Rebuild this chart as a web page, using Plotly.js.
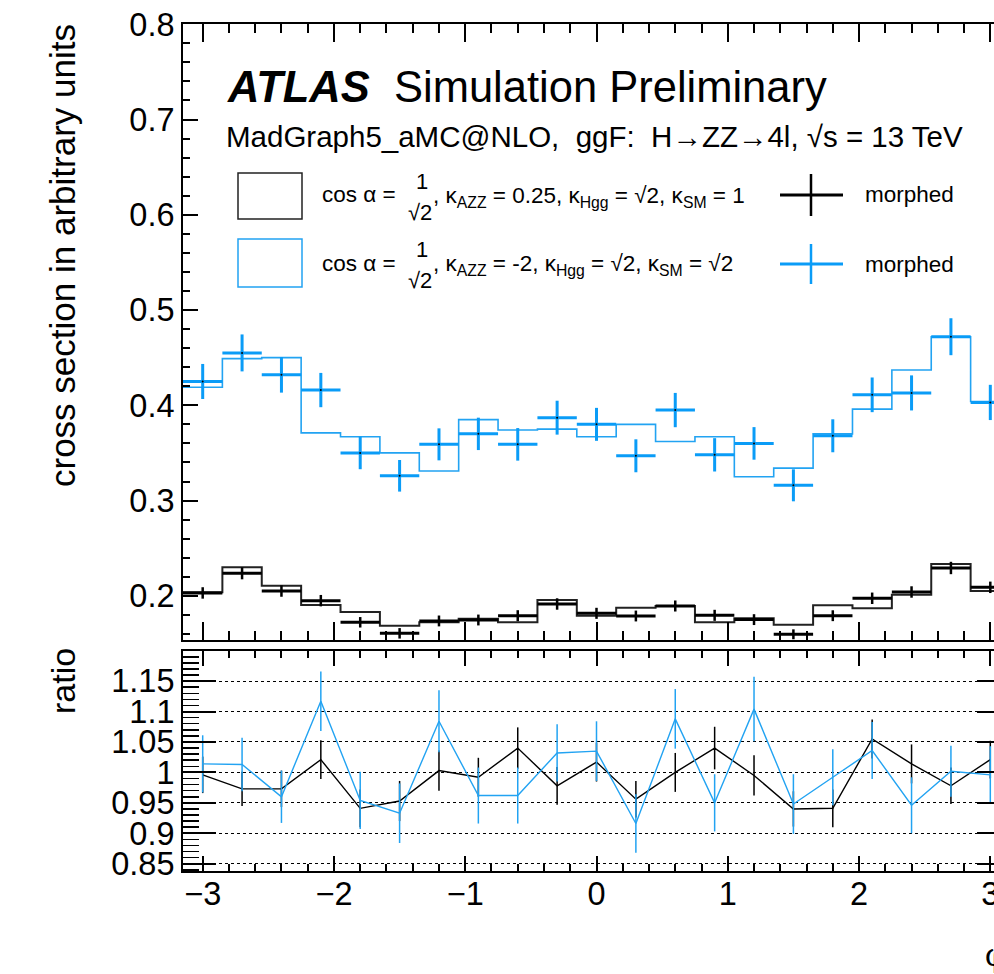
<!DOCTYPE html>
<html>
<head>
<meta charset="utf-8">
<script src="https://cdn.plot.ly/plotly-3.0.1.min.js"></script>
<style>
html,body{margin:0;padding:0;overflow:hidden;background:#fff;}
#plot{width:1040px;height:974px;}
</style>
</head>
<body>
<div id="plot"></div>
<script>
// ---- data ----
const binCenters = [-3, -2.7, -2.4, -2.1, -1.8, -1.5, -1.2, -0.9, -0.6, -0.3, 0, 0.3, 0.6, 0.9, 1.2, 1.5, 1.8, 2.1, 2.4, 2.7, 3.0];
const binEdges = [-3.15, -2.85, -2.55, -2.25, -1.95, -1.65, -1.35, -1.05, -0.75, -0.45, -0.15, 0.15, 0.45, 0.75, 1.05, 1.35, 1.65, 1.95, 2.25, 2.55, 2.85, 3.15];
const binHalfWidth = 0.15;

const blueHist = [0.419, 0.449, 0.450, 0.371, 0.367, 0.350, 0.331, 0.385, 0.374, 0.375, 0.367, 0.380, 0.362, 0.367, 0.325, 0.334, 0.370, 0.396, 0.437, 0.472, 0.404];
const blueMorph = [0.425, 0.455, 0.432, 0.416, 0.350, 0.326, 0.359, 0.370, 0.359, 0.387, 0.380, 0.347, 0.395, 0.348, 0.360, 0.316, 0.368, 0.411, 0.413, 0.472, 0.403];
const blueMorphErr = [0.0184, 0.0194, 0.0187, 0.018, 0.0171, 0.0166, 0.0168, 0.017, 0.0171, 0.0178, 0.0173, 0.0173, 0.018, 0.0175, 0.0171, 0.0168, 0.0173, 0.0182, 0.0184, 0.0194, 0.0185];

const blackHist = [0.2037, 0.2299, 0.2106, 0.1903, 0.1830, 0.1686, 0.1722, 0.1760, 0.1722, 0.1956, 0.1791, 0.1875, 0.1893, 0.1722, 0.1765, 0.1697, 0.1900, 0.1869, 0.2010, 0.2334, 0.2050];
const blackMorph = [0.2030, 0.2236, 0.2050, 0.1949, 0.1722, 0.1606, 0.1736, 0.1746, 0.1791, 0.1914, 0.1816, 0.1788, 0.1893, 0.1795, 0.1750, 0.1596, 0.1791, 0.1974, 0.2040, 0.2292, 0.2089];
const blackMorphErr = [0.006, 0.0063, 0.006, 0.006, 0.0055, 0.0055, 0.0057, 0.0057, 0.0058, 0.006, 0.0058, 0.0057, 0.0058, 0.0058, 0.0057, 0.0052, 0.0057, 0.006, 0.006, 0.0065, 0.006];

const blackRatio = [0.996, 0.973, 0.973, 1.021, 0.941, 0.953, 1.003, 0.992, 1.040, 0.978, 1.017, 0.956, 1.000, 1.040, 0.995, 0.940, 0.941, 1.055, 1.014, 0.978, 1.021];
const blackRatioErr = [0.030, 0.028, 0.030, 0.032, 0.031, 0.033, 0.033, 0.032, 0.034, 0.031, 0.032, 0.030, 0.032, 0.035, 0.033, 0.029, 0.031, 0.032, 0.032, 0.030, 0.031];
const blueRatio = [1.014, 1.013, 0.960, 1.117, 0.954, 0.933, 1.084, 0.962, 0.962, 1.032, 1.035, 0.916, 1.088, 0.950, 1.104, 0.948, 0.992, 1.036, 0.946, 1.002, 0.996];
const blueRatioErr = [0.047, 0.044, 0.043, 0.049, 0.047, 0.049, 0.051, 0.046, 0.046, 0.047, 0.049, 0.048, 0.049, 0.047, 0.053, 0.049, 0.046, 0.047, 0.046, 0.042, 0.047];

// ---- styling ----
const BLUE = '#0a9cf7';
const BLUE_LINE = '#22a3f2';
const BLACK = '#000000';
const FONT = 'Liberation Sans, Arial, Helvetica, sans-serif';

const stepY = arr => arr.concat([arr[arr.length - 1]]);

const traces = [
  { x: binEdges, y: stepY(blueHist), xaxis: 'x2', yaxis: 'y2', mode: 'lines',
    line: { shape: 'hv', color: BLUE_LINE, width: 1.6 }, hoverinfo: 'skip' },
  { x: binCenters, y: blueMorph, xaxis: 'x2', yaxis: 'y2', mode: 'markers',
    marker: { size: 2, color: BLACK },
    error_y: { type: 'data', array: blueMorphErr, color: BLUE, thickness: 3, width: 0 },
    error_x: { type: 'constant', value: binHalfWidth, color: BLUE, thickness: 3, width: 0 } },
  { x: binEdges, y: stepY(blackHist), xaxis: 'x2', yaxis: 'y2', mode: 'lines',
    line: { shape: 'hv', color: '#222', width: 2 }, hoverinfo: 'skip' },
  { x: binCenters, y: blackMorph, xaxis: 'x2', yaxis: 'y2', mode: 'markers',
    marker: { size: 2, color: BLACK },
    error_y: { type: 'data', array: blackMorphErr, color: BLACK, thickness: 2.5, width: 0 },
    error_x: { type: 'constant', value: binHalfWidth, color: BLACK, thickness: 3, width: 0 } },
  { x: binCenters, y: blackRatio, xaxis: 'x', yaxis: 'y', mode: 'lines',
    line: { color: BLACK, width: 1.4 },
    error_y: { type: 'data', array: blackRatioErr, color: BLACK, thickness: 1.5, width: 0 } },
  { x: binCenters, y: blueRatio, xaxis: 'x', yaxis: 'y', mode: 'lines',
    line: { color: BLUE_LINE, width: 1.4 },
    error_y: { type: 'data', array: blueRatioErr, color: BLUE_LINE, thickness: 1.5, width: 0 } }
];

// pixel helpers (layout only)
const L = 183, W = 827, T = 24, H = 847;
const px = x => (x - L) / W;
const py = y => (T + H - y) / H;

function ann(text, x, y, size, opts) {
  return Object.assign({ text: text, x: px(x), y: py(y), xref: 'paper', yref: 'paper',
    xanchor: 'left', yanchor: 'middle', showarrow: false,
    font: { family: FONT, size: size, color: BLACK } }, opts || {});
}

const annotations = [
  ann('<b><i>ATLAS</i></b>', 225, 87, 43.5),
  ann('Simulation Preliminary', 392, 87, 43.5),
  ann('MadGraph5_aMC@NLO,  ggF:  H\u2192ZZ\u21924l, \u221As = 13 TeV', 224, 136, 29.5),
  // legend row 1
  ann('cos \u03b1 =', 320, 195, 22.5),
  ann('1', 422, 182, 22, { xanchor: 'center' }),
  ann('\u221A2', 420, 212, 22, { xanchor: 'center' }),
  ann(', \u03ba<sub>AZZ</sub> = 0.25, \u03ba<sub>Hgg</sub> = \u221A2, \u03ba<sub>SM</sub> = 1', 431, 197, 22.5),
  ann('morphed', 863, 195, 22.5),
  // legend row 2
  ann('cos \u03b1 =', 320, 263, 22.5),
  ann('1', 422, 250, 22, { xanchor: 'center' }),
  ann('\u221A2', 420, 280, 22, { xanchor: 'center' }),
  ann(', \u03ba<sub>AZZ</sub> = -2, \u03ba<sub>Hgg</sub> = \u221A2, \u03ba<sub>SM</sub> = \u221A2', 431, 265, 22.5),
  ann('morphed', 863, 264, 22.5),
  // axis titles
  ann('cross section in arbitrary units', 63, 256, 35, { xanchor: 'center', textangle: -90 }),
  ann('ratio', 63, 681, 34, { xanchor: 'center', textangle: -90 }),
  ann('\u03c6', 983, 955, 32)
];

const shapes = [
  { type: 'rect', xref: 'paper', yref: 'paper', x0: px(238), x1: px(302), y0: py(173), y1: py(219),
    line: { color: '#222', width: 1.5 } },
  { type: 'rect', xref: 'paper', yref: 'paper', x0: px(238), x1: px(302), y0: py(239), y1: py(287),
    line: { color: BLUE_LINE, width: 1.5 } },
  { type: 'line', xref: 'paper', yref: 'paper', x0: px(780), x1: px(843), y0: py(195), y1: py(195),
    line: { color: BLACK, width: 3 } },
  { type: 'line', xref: 'paper', yref: 'paper', x0: px(811), x1: px(811), y0: py(174), y1: py(216),
    line: { color: BLACK, width: 2.5 } },
  { type: 'line', xref: 'paper', yref: 'paper', x0: px(780), x1: px(843), y0: py(264), y1: py(264),
    line: { color: BLUE, width: 3 } },
  { type: 'line', xref: 'paper', yref: 'paper', x0: px(811), x1: px(811), y0: py(244), y1: py(284),
    line: { color: BLUE, width: 2.5 } }
];

const axisCommon = {
  showline: true, linecolor: BLACK, linewidth: 2, mirror: 'allticks',
  ticks: 'inside', tickcolor: BLACK, tickwidth: 2,
  showgrid: false, zeroline: false, fixedrange: true,
  tickfont: { family: FONT, size: 32.5, color: BLACK }
};

const layout = {
  width: 1040, height: 974,
  margin: { l: L, r: 1040 - L - W, t: T, b: 974 - T - H },
  paper_bgcolor: '#fff', plot_bgcolor: '#fff',
  showlegend: false,
  font: { family: FONT, color: BLACK },
  xaxis: Object.assign({}, axisCommon, {
    anchor: 'y', domain: [0, 1], range: [-3.15, 3.15],
    tickmode: 'linear', tick0: 0, dtick: 1, ticklen: 15, ticklabelstandoff: -7,
    minor: { dtick: 0.2, tick0: 0, ticklen: 7, tickwidth: 2, tickcolor: BLACK, ticks: 'inside', showgrid: false }
  }),
  xaxis2: Object.assign({}, axisCommon, {
    anchor: 'y2', domain: [0, 1], range: [-3.15, 3.15], matches: 'x',
    tickmode: 'linear', tick0: 0, dtick: 1, ticklen: 18, showticklabels: false,
    minor: { dtick: 0.2, tick0: 0, ticklen: 9, tickwidth: 2, tickcolor: BLACK, ticks: 'inside', showgrid: false }
  }),
  yaxis: Object.assign({}, axisCommon, {
    anchor: 'x', domain: [0, (T + H - 651) / H], range: [0.838, 1.1995],
    tickmode: 'linear', tick0: 0, dtick: 0.05, ticklen: 33,
    showgrid: true, gridcolor: BLACK, gridwidth: 1, griddash: 'dot',
    minor: { dtick: 0.01, tick0: 0, ticklen: 16, tickwidth: 1.5, tickcolor: BLACK, ticks: 'inside', showgrid: false }
  }),
  yaxis2: Object.assign({}, axisCommon, {
    anchor: 'x2', domain: [(T + H - 640) / H, 1], range: [0.1536, 0.8003],
    tickmode: 'linear', tick0: 0, dtick: 0.1, ticklen: 15,
    minor: { dtick: 0.02, tick0: 0, ticklen: 7, tickwidth: 2, tickcolor: BLACK, ticks: 'inside', showgrid: false }
  }),
  annotations: annotations,
  shapes: shapes
};

Plotly.newPlot('plot', traces, layout, { staticPlot: true, displayModeBar: false });
</script>
</body>
</html>
